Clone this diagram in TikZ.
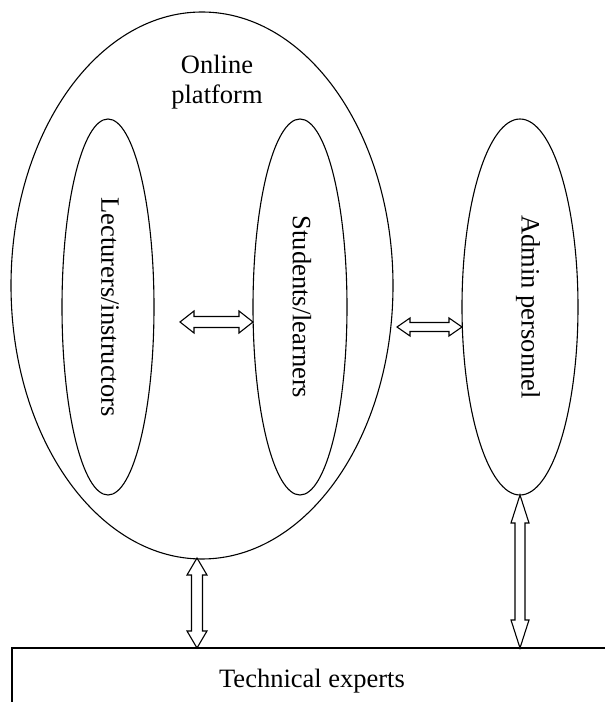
\documentclass[tikz,border=0pt]{standalone}
\usepackage{fontspec}
\setmainfont{Liberation Serif}
\usetikzlibrary{shapes.geometric,calc}
\tikzset{
  oval/.style={draw, ellipse, line width=1.1pt, inner sep=0pt, outer sep=0pt},
  lbl/.style={font=\fontsize{26.5}{30}\selectfont, inner sep=0pt, align=center},
  vlbl/.style={lbl, rotate=-90},
  box/.style={draw, rectangle, line width=1.1pt, inner sep=0pt, outer sep=0pt, font=\fontsize{26.5}{30}\selectfont},
  arr/.style={draw, fill=white, line width=1.1pt, line join=miter},
  hdbl/.style n args={3}{
    to path={let \p1=(\tikztostart), \p2=(\tikztotarget) in
      (\x1,\y1) -- (\x1+#1,\y1+#2) -- (\x1+#1,\y1+#3) -- (\x2-#1,\y1+#3) -- (\x2-#1,\y1+#2)
      -- (\x2,\y1) -- (\x2-#1,\y1-#2) -- (\x2-#1,\y1-#3) -- (\x1+#1,\y1-#3) -- (\x1+#1,\y1-#2) -- cycle}},
  vdbl/.style n args={3}{
    to path={let \p1=(\tikztostart), \p2=(\tikztotarget) in
      (\x1,\y1) -- (\x1+#2,\y1-#1) -- (\x1+#3,\y1-#1) -- (\x1+#3,\y2+#1) -- (\x1+#2,\y2+#1)
      -- (\x1,\y2) -- (\x1-#2,\y2+#1) -- (\x1-#3,\y2+#1) -- (\x1-#3,\y1-#1) -- (\x1-#2,\y1-#1) -- cycle}},
}
\begin{document}
\begin{tikzpicture}[x=1pt,y=1pt]
\useasboundingbox (0,0) rectangle (605,702);
\clip (0,0) rectangle (605,702);
% ellipses
\node[oval, minimum width=382pt, minimum height=547pt] (big) at (202,416.5) {};
\node[oval, minimum width=92pt, minimum height=376pt] (lect) at (108,395) {};
\node[oval, minimum width=94pt, minimum height=376pt] (stud) at (300,395) {};
\node[oval, minimum width=116pt, minimum height=376pt] (adm) at (520,395) {};
% labels
\node[lbl] (plat) at (217,620) {Online\\platform};
\node[vlbl] (lectt) at (110,395) {Lecturers/instructors};
\node[vlbl] (studt) at (302,395) {Students/learners};
\node[vlbl] (admt) at (528,395) {Admin personnel};
% bottom box
\node[box, anchor=north west, minimum width=600pt, minimum height=66pt] (tech) at (12,54) {Technical experts};
% connectors
\coordinate (a1s) at (180,380);
\coordinate (a2s) at (397,375);
\coordinate (a3s) at (197,144);
\draw[arr] (a1s) to[hdbl={14pt}{11pt}{5.5pt}] (stud.west |- a1s);
\draw[arr] (a2s) to[hdbl={13pt}{9pt}{4.5pt}] (adm.west |- a2s);
\draw[arr] (a3s) to[vdbl={17pt}{10pt}{5.5pt}] (a3s |- tech.north);
\draw[arr] (adm.south) to[vdbl={28pt}{9pt}{5pt}] (adm.south |- tech.north);
\end{tikzpicture}
\end{document}
